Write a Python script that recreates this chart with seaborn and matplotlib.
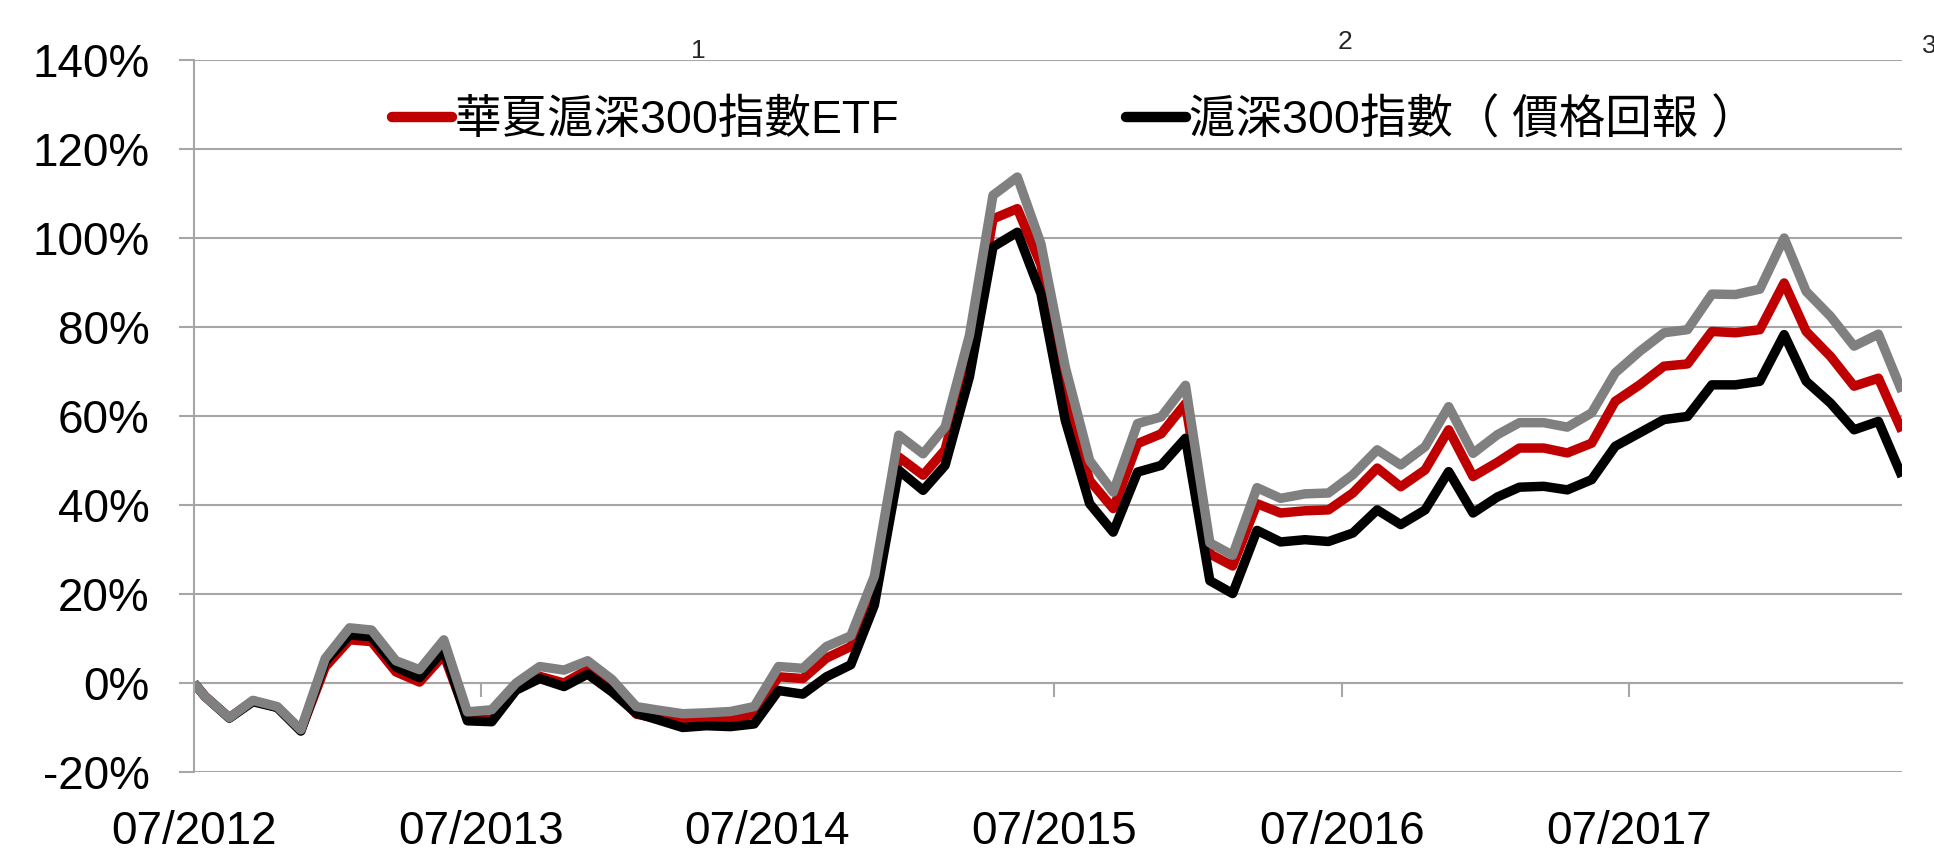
import pandas as pd
import numpy as np
import matplotlib
matplotlib.use("Agg")
import matplotlib.pyplot as plt
import matplotlib.dates as mdates
import seaborn as sns

# ---- data (cumulative return, %) ----
dates = [pd.Timestamp("2012-07-17")] + list(pd.date_range("2012-07-31", periods=72, freq="ME"))

etf = [0, -3, -7.8, -4, -5.5, -10.7, 3.6, 9.7, 9.3, 2.5, 0.2, 6.3, -8.0, -8.2, -1.0,
       1.5, 0.0, 3.0, -1.0, -7.0, -8.0, -8.5, -8.3, -8.0, -7.0, 1.4, 1.0, 5.6, 8.2, 20.0,
       50.8, 46.7, 52.4, 74.0, 104.3, 106.6, 94.0, 66.5, 45.5, 39.2, 53.8, 56.0, 62.8,
       29.0, 26.3, 40.3, 38.2, 38.7, 38.9, 42.7, 48.3, 44.1, 47.9, 56.9, 46.4, 49.6,
       52.8, 52.8, 51.7, 53.9, 63.3, 67.0, 71.2, 71.7, 79.0, 78.7, 79.4, 89.9, 79.0,
       73.4, 66.7, 68.5, 56.6]

index_price = [0, -3, -7.9, -4.2, -5.5, -10.8, 4.8, 10.8, 10.4, 3.6, 1.2, 7.5, -8.5, -8.7, -1.6,
               1.0, -0.8, 2.0, -2.0, -6.8, -8.3, -10.0, -9.6, -9.8, -9.2, -1.7, -2.5, 1.4, 4.1, 17.5,
               47.8, 43.3, 48.9, 68.8, 98.0, 101.3, 87.5, 59.0, 40.3, 33.9, 47.4, 48.9, 55.0,
               23.0, 20.1, 34.3, 31.7, 32.2, 31.8, 33.7, 38.9, 35.6, 38.9, 47.5, 38.2, 41.8,
               44.0, 44.2, 43.4, 45.7, 53.2, 56.2, 59.2, 59.9, 67.0, 67.0, 67.8, 78.3, 67.8,
               62.9, 56.9, 58.8, 46.4]

index_total = [0, -3, -7.8, -3.9, -5.3, -10.5, 5.5, 12.4, 11.9, 5.0, 3.0, 9.7, -6.5, -6.0, 0.0,
               3.7, 2.9, 5.0, 0.8, -5.3, -6.1, -6.9, -6.7, -6.4, -5.3, 3.7, 3.3, 8.2, 10.6, 24.0,
               55.7, 51.5, 57.5, 78.1, 109.6, 113.7, 98.7, 71.0, 50.0, 42.9, 58.3, 59.8, 66.9,
               31.5, 28.7, 43.9, 41.5, 42.5, 42.7, 46.8, 52.4, 49.0, 53.1, 62.1, 51.6, 55.8,
               58.5, 58.5, 57.5, 60.7, 69.7, 74.5, 78.7, 79.4, 87.4, 87.3, 88.5, 100.0, 88.0,
               82.4, 75.7, 78.4, 65.5]

series_names = ["華夏滬深300指數ETF", "滬深300指數（ 價格回報 ）", "_total"]
series_colors = ["#C00000", "#000000", "#808080"]

x_tick_dates = pd.to_datetime(["2012-07-17", "2013-07-17", "2014-07-17",
                               "2015-07-17", "2016-07-17", "2017-07-17"])
x_tick_labels = ["07/2012", "07/2013", "07/2014", "07/2015", "07/2016", "07/2017"]
y_ticks = [-20, 0, 20, 40, 60, 80, 100, 120, 140]
y_tick_labels = ["-20%", "0%", "20%", "40%", "60%", "80%", "100%", "120%", "140%"]
top_marks = ["1", "2", "3"]

# ---- style ----
sns.set_theme(style="white")
plt.rcParams["font.family"] = ["Liberation Sans", "Noto Sans CJK TC"]

GRID = "#A6A6A6"
W, H = 1934, 852
fig = plt.figure(figsize=(W / 100, H / 100), dpi=100)
ax = fig.add_axes([194 / W, 1 - 772 / H, (1902 - 194) / W, (772 - 60) / H])

df = pd.DataFrame({"date": dates, "etf": etf, "price": index_price, "total": index_total})

lines = []
for col, name, color, z in zip(["etf", "price", "total"], series_names, series_colors, [2.1, 2.2, 2.3]):
    sns.lineplot(data=df, x="date", y=col, ax=ax, color=color, lw=6.8, label=name,
                 zorder=z, solid_capstyle="butt", solid_joinstyle="round", legend=False)
    lines.append(ax.get_lines()[-1])

ax.set_xlim(dates[0], dates[-1])
ax.set_ylim(-20, 140)
ax.set_xlabel("")
ax.set_ylabel("")

ax.set_yticks(y_ticks)
ax.set_yticklabels(y_tick_labels, fontsize=33, color="black")
ax.tick_params(axis="y", direction="out", length=11, width=1.5, color=GRID, pad=21, left=True,
               labelcolor="black")

ax.set_xticks(mdates.date2num(x_tick_dates))
ax.set_xticklabels(x_tick_labels, fontsize=33, color="black")
ax.tick_params(axis="x", length=0, pad=27, labelcolor="black")

ax.yaxis.grid(True, color=GRID, lw=1.5)
ax.xaxis.grid(False)
ax.set_axisbelow(True)
for s in ["top", "right", "bottom"]:
    ax.spines[s].set_visible(False)
ax.spines["left"].set_color(GRID)
ax.spines["left"].set_linewidth(1.5)

# tick marks on the 0% line
sec = ax.secondary_xaxis(0.125)
sec.set_xticks(mdates.date2num(x_tick_dates))
sec.tick_params(axis="x", direction="out", length=10, width=1.5, color=GRID, labelbottom=False)
sec.spines["bottom"].set_color(GRID)
sec.spines["bottom"].set_linewidth(1.5)

# legend: two entries placed separately
leg_y = (772 - 121) / 712
legs = []
for line, name, x0 in zip(lines[:2], series_names[:2], [392, 1126]):
    lg = ax.legend([line], [name], frameon=False, fontsize=33.5, handlelength=1.3,
                   handletextpad=0.05, loc="center left",
                   bbox_to_anchor=((x0 - 194) / 1708, leg_y), borderpad=0, borderaxespad=0)
    for t in lg.get_texts():
        t.set_color("black")
    for h in lg.get_lines():
        h.set_linewidth(7.5)
        h.set_solid_capstyle("round")
    legs.append(lg)
ax.add_artist(legs[0])

fig.text(698 / W, 1 - 51 / H, top_marks[0], fontsize=19, ha="center", va="center")
fig.text(1345 / W, 1 - 42 / H, top_marks[1], fontsize=19, ha="center", va="center")
fig.text(1922 / W, 1 - 46 / H, top_marks[2], fontsize=19, ha="left", va="center")

fig.savefig("out.png", dpi=100, facecolor="white")
